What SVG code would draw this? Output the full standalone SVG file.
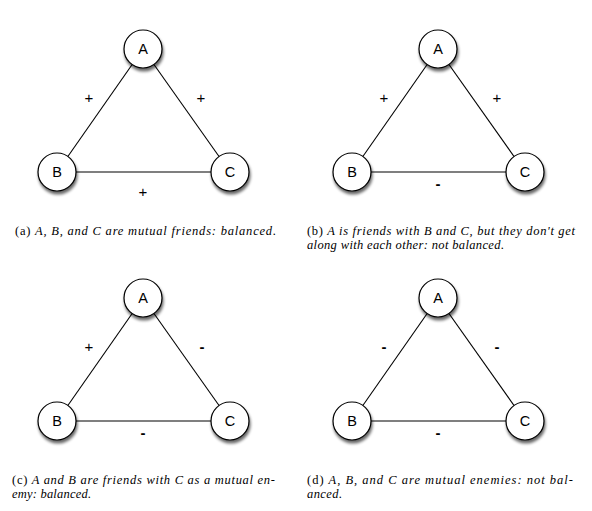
<svg xmlns="http://www.w3.org/2000/svg" width="592" height="511" viewBox="0 0 592 511">
<defs>
<filter id="sh" x="-50%" y="-50%" width="200%" height="200%">
<feGaussianBlur in="SourceAlpha" stdDeviation="1.8"/>
<feOffset dx="1" dy="3" result="o"/>
<feComponentTransfer><feFuncA type="linear" slope="0.6"/></feComponentTransfer>
<feMerge><feMergeNode/><feMergeNode in="SourceGraphic"/></feMerge>
</filter>
<style>
.n circle{fill:#fff;stroke:#000;stroke-width:1.2}
.n text{font-family:"Liberation Sans",Arial,sans-serif;font-size:14.5px;text-anchor:middle}
.e line{stroke:#000;stroke-width:1.1}
.s{font-family:"Liberation Sans",Arial,sans-serif;font-size:15px;text-anchor:middle}
.m{font-family:"Liberation Sans",Arial,sans-serif;font-size:15px;font-weight:bold;text-anchor:middle}
.cap{font-family:"Liberation Serif","Times New Roman",serif;font-size:12.5px;font-style:italic}
.cap .u{font-style:normal}
</style>
</defs>
<rect width="592" height="511" fill="#fff"/>
<g id="connectors" class="e">
<line x1="143" y1="49" x2="57" y2="172"/><line x1="143" y1="49" x2="230" y2="172"/><line x1="57" y1="172" x2="230" y2="172"/>
<line x1="438" y1="49" x2="352" y2="172"/><line x1="438" y1="49" x2="525" y2="172"/><line x1="352" y1="172" x2="525" y2="172"/>
<line x1="143" y1="298" x2="57" y2="421"/><line x1="143" y1="298" x2="230" y2="421"/><line x1="57" y1="421" x2="230" y2="421"/>
<line x1="438" y1="298" x2="352" y2="421"/><line x1="438" y1="298" x2="525" y2="421"/><line x1="352" y1="421" x2="525" y2="421"/>
</g>
<g id="signs">
<text class="s" x="89" y="103">+</text><text class="s" x="201" y="103">+</text><text class="s" x="143" y="197">+</text>
<text class="s" x="384" y="103">+</text><text class="s" x="497" y="103">+</text><text class="m" x="438" y="189">-</text>
<text class="s" x="89" y="352">+</text><text class="m" x="202" y="352">-</text><text class="m" x="143" y="438">-</text>
<text class="m" x="384" y="352">-</text><text class="m" x="497" y="352">-</text><text class="m" x="438" y="438">-</text>
</g>
<g id="a-A" class="n"><circle cx="143" cy="49" r="19" filter="url(#sh)"/><text x="143" y="54">A</text></g>
<g id="a-B" class="n"><circle cx="57" cy="172" r="19" filter="url(#sh)"/><text x="57" y="177">B</text></g>
<g id="a-C" class="n"><circle cx="230" cy="172" r="19" filter="url(#sh)"/><text x="230" y="177">C</text></g>
<g id="b-A" class="n"><circle cx="438" cy="49" r="19" filter="url(#sh)"/><text x="438" y="54">A</text></g>
<g id="b-B" class="n"><circle cx="352" cy="172" r="19" filter="url(#sh)"/><text x="352" y="177">B</text></g>
<g id="b-C" class="n"><circle cx="525" cy="172" r="19" filter="url(#sh)"/><text x="525" y="177">C</text></g>
<g id="c-A" class="n"><circle cx="143" cy="298" r="19" filter="url(#sh)"/><text x="143" y="303">A</text></g>
<g id="c-B" class="n"><circle cx="57" cy="421" r="19" filter="url(#sh)"/><text x="57" y="426">B</text></g>
<g id="c-C" class="n"><circle cx="230" cy="421" r="19" filter="url(#sh)"/><text x="230" y="426">C</text></g>
<g id="d-A" class="n"><circle cx="438" cy="298" r="19" filter="url(#sh)"/><text x="438" y="303">A</text></g>
<g id="d-B" class="n"><circle cx="352" cy="421" r="19" filter="url(#sh)"/><text x="352" y="426">B</text></g>
<g id="d-C" class="n"><circle cx="525" cy="421" r="19" filter="url(#sh)"/><text x="525" y="426">C</text></g>
<g id="captions" class="cap">
<text x="15" y="235" textLength="261" lengthAdjust="spacing"><tspan class="u">(a)</tspan> A, B, and C are mutual friends: balanced.</text>
<text x="307" y="235" textLength="268" lengthAdjust="spacing"><tspan class="u">(b)</tspan> A is friends with B and C, but they don't get</text>
<text x="307" y="248.5" textLength="197" lengthAdjust="spacing">along with each other: not balanced.</text>
<text x="12" y="484" textLength="263" lengthAdjust="spacing"><tspan class="u">(c)</tspan> A and B are friends with C as a mutual en-</text>
<text x="12" y="497.5" textLength="79" lengthAdjust="spacing">emy: balanced.</text>
<text x="307" y="484" textLength="266" lengthAdjust="spacing"><tspan class="u">(d)</tspan> A, B, and C are mutual enemies: not bal-</text>
<text x="307" y="497.5" textLength="35" lengthAdjust="spacing">anced.</text>
</g>
</svg>
